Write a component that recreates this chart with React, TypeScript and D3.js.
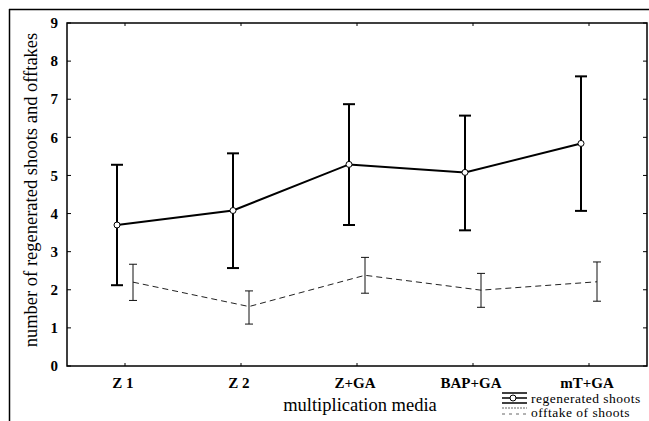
import React from 'react';
import * as d3 from 'd3';

// values
const media = ['Z 1', 'Z 2', 'Z+GA', 'BAP+GA', 'mT+GA'];
const shootsMean = [3.7, 4.08, 5.29, 5.08, 5.84];
const shootsLow = [2.12, 2.57, 3.7, 3.56, 4.07];
const shootsHigh = [5.28, 5.58, 6.87, 6.57, 7.6];
const offtakeMean = [2.2, 1.56, 2.38, 1.99, 2.21];
const offtakeLow = [1.72, 1.1, 1.91, 1.54, 1.7];
const offtakeHigh = [2.67, 1.97, 2.85, 2.43, 2.73];
const yTicks = [0, 1, 2, 3, 4, 5, 6, 7, 8, 9];

const W = 649, H = 421;
const left = 67, right = 647, top = 23, bottom = 366;
const serif = '"Liberation Serif", "DejaVu Serif", serif';

const App = () => {
  const x = d3.scalePoint<string>().domain(media).range([left, right]).padding(0.5);
  const y = d3.scaleLinear().domain([0, 9]).range([bottom, top]);

  const shoots = media.map((m, i) => ({m, v: shootsMean[i], lo: shootsLow[i], hi: shootsHigh[i]}));
  const offt = media.map((m, i) => ({m, v: offtakeMean[i], lo: offtakeLow[i], hi: offtakeHigh[i]}));
  const off = 8;

  const line = (dx: number) => d3.line<{m: string; v: number}>()
    .x(d => (x(d.m) as number) + dx)
    .y(d => y(d.v));

  return (
    <svg width={W} height={H} style={{position: 'absolute', left: 0, top: 0, background: '#fff'}}>
      {/* outer frame */}
      <line x1={9} y1={9.5} x2={649} y2={9.5} stroke="#000" strokeWidth={1.5}/>
      <line x1={9.5} y1={9} x2={9.5} y2={421} stroke="#000" strokeWidth={1.5}/>
      {/* plot frame */}
      <rect x={left} y={top} width={right - left} height={bottom - top} fill="none" stroke="#000" strokeWidth={1.5}/>
      {yTicks.map(t => (
        <g key={t}>
          <line x1={left} x2={left + 4} y1={y(t)} y2={y(t)} stroke="#000"/>
          <line x1={right - 4} x2={right} y1={y(t)} y2={y(t)} stroke="#000"/>
          <text x={left - 9} y={y(t)} dy="0.35em" textAnchor="end" fontFamily={serif}
                fontWeight="bold" fontSize={15}>{t}</text>
        </g>
      ))}
      {media.map(m => (
        <g key={m}>
          <line x1={x(m)} x2={x(m)} y1={top} y2={top + 3} stroke="#000"/>
          <line x1={x(m)} x2={x(m)} y1={bottom} y2={bottom - 3} stroke="#000"/>
          <text x={(x(m) as number) - 2} y={bottom + 22} textAnchor="middle" fontFamily={serif}
                fontWeight="bold" fontSize={15}>{m}</text>
        </g>
      ))}

      {/* offtake of shoots: dashed */}
      <path d={line(off)(offt) || ''} fill="none" stroke="#222" strokeWidth={1} strokeDasharray="6,4"/>
      {offt.map(d => {
        const cx = (x(d.m) as number) + off;
        return (
          <g key={d.m} stroke="#111" strokeWidth={1}>
            <line x1={cx} x2={cx} y1={y(d.lo)} y2={y(d.hi)}/>
            <line x1={cx - 4} x2={cx + 4} y1={y(d.lo)} y2={y(d.lo)}/>
            <line x1={cx - 4} x2={cx + 4} y1={y(d.hi)} y2={y(d.hi)}/>
          </g>
        );
      })}

      {/* regenerated shoots: solid */}
      {shoots.map(d => {
        const cx = (x(d.m) as number) - off;
        return (
          <g key={d.m} stroke="#000" strokeWidth={2}>
            <line x1={cx} x2={cx} y1={y(d.lo)} y2={y(d.hi)}/>
            <line x1={cx - 6} x2={cx + 6} y1={y(d.lo)} y2={y(d.lo)}/>
            <line x1={cx - 6} x2={cx + 6} y1={y(d.hi)} y2={y(d.hi)}/>
          </g>
        );
      })}
      <path d={line(-off)(shoots) || ''} fill="none" stroke="#000" strokeWidth={2}/>
      {shoots.map(d => (
        <circle key={d.m} cx={(x(d.m) as number) - off} cy={y(d.v)} r={3}
                fill="#fff" stroke="#000" strokeWidth={1}/>
      ))}

      {/* axis titles */}
      <text transform={`translate(37,${190}) rotate(-90)`} textAnchor="middle"
            fontFamily={serif} fontSize={18.5}>number of regenerated shoots and offtakes</text>
      <text x={360} y={411} textAnchor="middle" fontFamily={serif} fontSize={18.5}>multiplication media</text>

      {/* legend */}
      <g stroke="#000">
        <line x1={502} x2={527} y1={393} y2={393} strokeWidth={1.5}/>
        <line x1={502} x2={527} y1={398} y2={398} strokeWidth={1.5}/>
        <line x1={502} x2={527} y1={403} y2={403} strokeWidth={1.5}/>
        <circle cx={513} cy={398} r={3} fill="#fff" strokeWidth={1}/>
      </g>
      <g stroke="#666" strokeWidth={1}>
        <line x1={502} x2={527} y1={408} y2={408} strokeDasharray="2,1"/>
        <line x1={502} x2={527} y1={414} y2={414} strokeDasharray="3,4"/>
      </g>
      <text x={531} y={403} fontFamily={serif} fontSize={13.5} letterSpacing={0.5}>regenerated shoots</text>
      <text x={531} y={417} fontFamily={serif} fontSize={13.5} letterSpacing={0.5}>offtake of shoots</text>
    </svg>
  );
};

export default App;
